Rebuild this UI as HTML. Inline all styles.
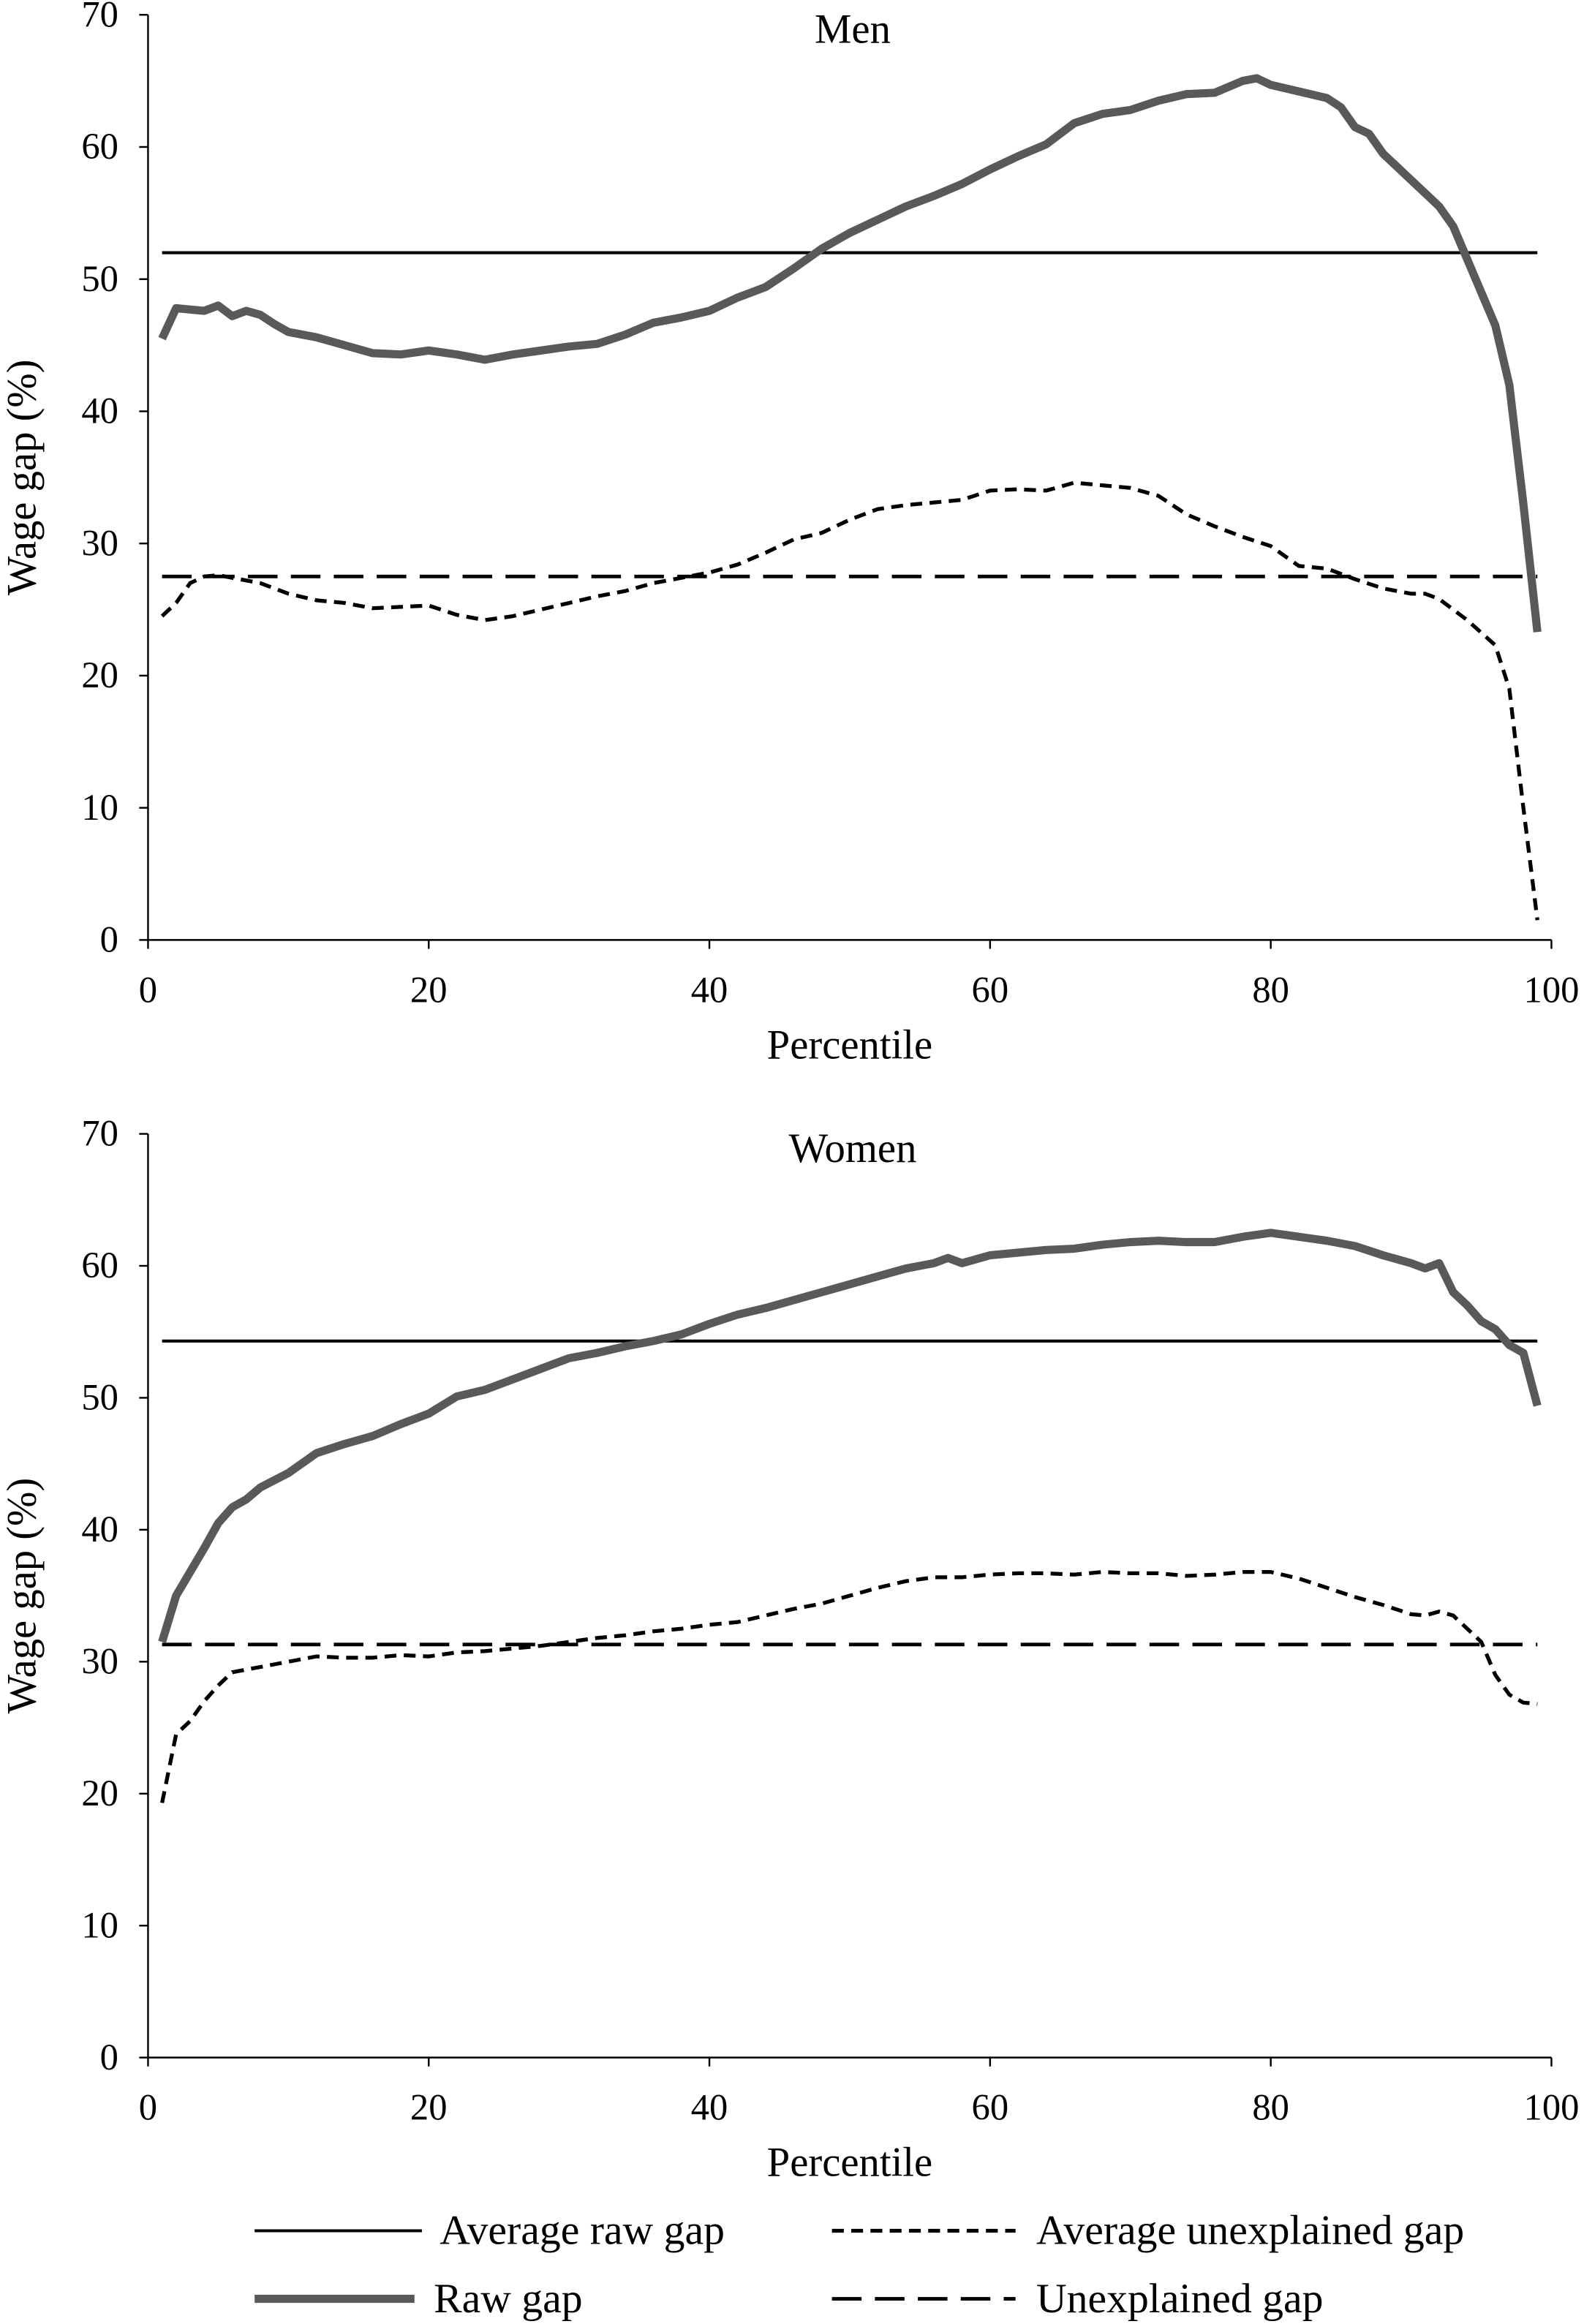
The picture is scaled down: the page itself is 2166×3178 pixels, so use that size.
<!DOCTYPE html>
<html><head><meta charset="utf-8">
<style>
html,body{margin:0;padding:0;background:#fff;}
svg{display:block;}
text{font-family:"Liberation Serif",serif;fill:#000;}
</style></head>
<body>
<svg id="chart" width="2166" height="3178" viewBox="0 0 1070 1570" preserveAspectRatio="none" xmlns="http://www.w3.org/2000/svg">
</svg>
<script>
const menRawP=[1,2,3,4,5,6,7,8,9,10,12,14,16,18,20,22,24,26,28,30,32,34,36,38,40,42,44,46,48,50,52,54,56,58,60,62,64,66,68,70,72,74,76,78,79,80,82,84,85,86,87,88,89,90,91,92,93,94,95,96,97,98,99];
const menRaw=[45.5,47.8,47.7,47.6,48,47.2,47.6,47.3,46.6,46,45.6,45,44.4,44.3,44.6,44.3,43.9,44.3,44.6,44.9,45.1,45.8,46.7,47.1,47.6,48.6,49.4,50.8,52.3,53.5,54.5,55.5,56.3,57.2,58.3,59.3,60.2,61.8,62.5,62.8,63.5,64,64.1,65,65.2,64.7,64.2,63.7,63,61.5,61,59.5,58.5,57.5,56.5,55.5,54,51.5,49,46.5,42,33,23.3];
const menUnP=[1,2,3,4,5,6,8,10,12,14,16,18,20,22,24,26,28,30,32,34,36,38,40,42,44,46,48,50,52,54,56,58,60,62,64,66,68,70,72,74,76,78,80,82,84,86,88,90,91,92,94,96,97,98,99];
const menUn=[24.5,25.5,27,27.5,27.6,27.4,27,26.2,25.7,25.5,25.1,25.2,25.3,24.6,24.2,24.5,25,25.5,26,26.4,27,27.4,27.8,28.4,29.3,30.3,30.8,31.8,32.6,32.9,33.1,33.3,34,34.1,34,34.6,34.4,34.2,33.6,32.2,31.3,30.5,29.8,28.3,28.1,27.3,26.6,26.2,26.2,25.8,24.2,22.3,19,10,1.5];
const menAvgRaw=52, menAvgUn=27.5;
const womRawP=[1,2,3,4,5,6,7,8,10,12,14,16,18,20,22,24,26,28,30,32,34,36,38,40,42,44,46,48,50,52,54,56,57,58,60,62,64,66,68,70,72,74,76,78,80,82,84,86,88,90,91,92,93,94,95,96,97,98,99];
const womRaw=[31.5,35,36.8,38.6,40.5,41.7,42.3,43.2,44.3,45.8,46.5,47.1,48,48.8,50.1,50.6,51.4,52.2,53,53.4,53.9,54.3,54.8,55.6,56.3,56.8,57.4,58,58.6,59.2,59.8,60.2,60.6,60.2,60.8,61,61.2,61.3,61.6,61.8,61.9,61.8,61.8,62.2,62.5,62.2,61.9,61.5,60.8,60.2,59.8,60.2,58,57,55.8,55.2,54,53.4,49.4];
const womUnP=[1,2,3,4,5,6,8,10,12,14,16,18,20,22,24,26,28,30,32,34,36,38,40,42,44,46,48,50,52,54,56,58,60,62,64,66,68,70,72,74,76,78,80,82,84,86,88,90,91,92,93,94,95,96,97,98,99];
const womUn=[19.3,24.5,25.5,27,28.2,29.2,29.6,30,30.4,30.3,30.3,30.5,30.4,30.7,30.8,31,31.2,31.5,31.8,32,32.3,32.5,32.8,33,33.5,34,34.4,35,35.6,36.1,36.4,36.4,36.6,36.7,36.7,36.6,36.8,36.7,36.7,36.5,36.6,36.8,36.8,36.3,35.6,34.9,34.3,33.6,33.5,33.8,33.5,32.5,31.5,29,27.5,26.9,26.8];
const womAvgRaw=54.3, womAvgUn=31.3;
const xTicks=[0,20,40,60,80,100];
const yTicks=[0,10,20,30,40,50,60,70];

const NS="http://www.w3.org/2000/svg";
const svg=document.getElementById('chart');
function mk(tag,attrs,parent){const e=document.createElementNS(NS,tag);for(const k in attrs)e.setAttribute(k,attrs[k]);(parent||svg).appendChild(e);return e;}

function panel(title,y0,y70,rawP,raw,unP,un,avgRaw,avgUn,key){
  const g=mk('g',{});
  
  
  const x=p=>100+p*9.48;
  const y=v=>y0-(y0-y70)*v/70;
  const ax=mk('path',{d:`M100 ${y70} V${y0} H1048`,stroke:'#000','stroke-width':1.2,fill:'none'},g);
  
  
  yTicks.forEach(t=>{
    mk('line',{x1:94,x2:100,y1:y(t),y2:y(t),stroke:'#000','stroke-width':1.2},g);
    const tx=mk('text',{x:80,y:y(t)+8,'font-size':25,'text-anchor':'end'},g);tx.textContent=t;
    
    
  });
  xTicks.forEach(t=>{
    mk('line',{x1:x(t),x2:x(t),y1:y0,y2:y0+6,stroke:'#000','stroke-width':1.2},g);
    const tx=mk('text',{x:x(t),y:y0+42,'font-size':25,'text-anchor':'middle'},g);tx.textContent=t;
    
    
  });
  const xt=mk('text',{x:574,y:y0+80,'font-size':28,'text-anchor':'middle'},g);xt.textContent='Percentile';
  
  
  const cy=(y0+y70)/2;
  const yt=mk('text',{x:24,y:cy,'font-size':28,'text-anchor':'middle',transform:`rotate(-90 24 ${cy})`},g);yt.textContent='Wage gap (%)';
  
  
  const tt=mk('text',{x:576,y:y70+19,'font-size':28,'text-anchor':'middle'},g);tt.textContent=title;
  
  
  const l1=mk('line',{x1:x(1),x2:x(99),y1:y(avgRaw),y2:y(avgRaw),stroke:'#000','stroke-width':2},g);
  
  
  const l2=mk('line',{x1:x(1),x2:x(99),y1:y(avgUn),y2:y(avgUn),stroke:'#000','stroke-width':2.4,'stroke-dasharray':'20 9'},g);
  
  
  const pu=mk('polyline',{points:unP.map((p,i)=>x(p)+','+y(un[i])).join(' '),fill:'none',stroke:'#000','stroke-width':2.6,'stroke-dasharray':'8 5'},g);
  
  
  const pr=mk('polyline',{points:rawP.map((p,i)=>x(p)+','+y(raw[i])).join(' '),fill:'none',stroke:'#595959','stroke-width':5.5,'stroke-linejoin':'round'},g);
  
  
}
panel('Men',635,10,menRawP,menRaw,menUnP,menUn,menAvgRaw,menAvgUn,'men');
panel('Women',1390,766,womRawP,womRaw,womUnP,womUn,womAvgRaw,womAvgUn,'women');

const lg=mk('g',{});


const items=[
 {x1:172,x2:285,y:1507,tx:297,label:'Average raw gap',st:{stroke:'#000','stroke-width':2}},
 {x1:562,x2:686,y:1507,tx:700,label:'Average unexplained gap',st:{stroke:'#000','stroke-width':2.6,'stroke-dasharray':'8 5'}},
 {x1:172,x2:280,y:1553,tx:293,label:'Raw gap',st:{stroke:'#595959','stroke-width':5.5}},
 {x1:562,x2:686,y:1553,tx:700,label:'Unexplained gap',st:{stroke:'#000','stroke-width':2.4,'stroke-dasharray':'20 9'}}
];
items.forEach(it=>{
  const e=mk('g',{},lg);
  
  
  mk('line',Object.assign({x1:it.x1,x2:it.x2,y1:it.y,y2:it.y},it.st),e);
  const t=mk('text',{x:it.tx,y:it.y+9,'font-size':28.5},e);t.textContent=it.label;
});
</script>
</body></html>
